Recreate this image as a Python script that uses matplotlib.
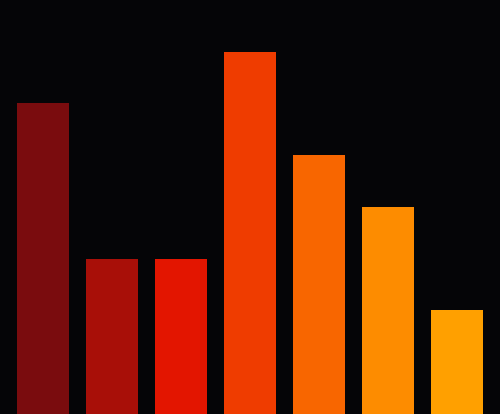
import matplotlib; matplotlib.use("Agg")
import matplotlib.pyplot as plt
import numpy as np

categories = ["a", "b", "c", "d", "e", "f", "g"]
values = [6, 3, 3, 7, 5, 4, 2]
colors = ["#7a0c0e", "#a80f08", "#e31500", "#ef3c00", "#f86600", "#fd8c00", "#ffa000"]

fig = plt.figure(figsize=(5, 4.1401), dpi=100)
fig.patch.set_facecolor("#050507")
ax = fig.add_axes([0, 0, 1, 1])
ax.set_facecolor("#050507")
x = np.arange(len(categories))
ax.bar(x, values, width=0.754, color=colors)
ax.set_xlim(-0.623, len(categories) - 1 + 0.623)
ax.set_ylim(0, 8)
ax.axis("off")
fig.savefig("out.png", dpi=100, facecolor=fig.get_facecolor())
